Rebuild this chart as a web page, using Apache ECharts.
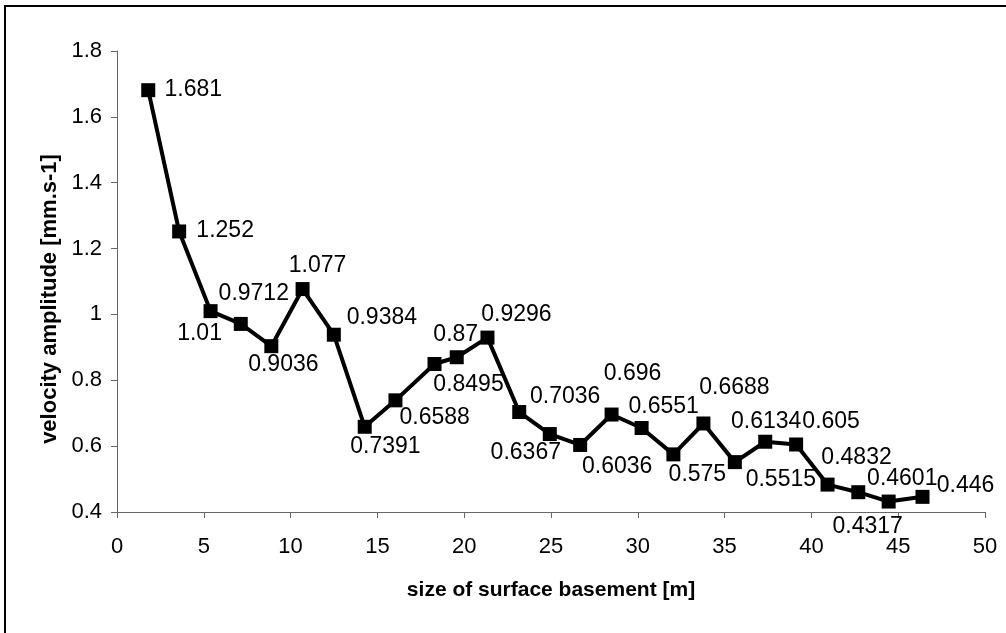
<!DOCTYPE html>
<html>
<head>
<meta charset="utf-8">
<script src="https://cdn.jsdelivr.net/npm/echarts@6/dist/echarts.min.js"></script>
<style>
  html, body { margin: 0; padding: 0; background: #fff; }
  #chart { width: 1006px; height: 633px; }
</style>
</head>
<body>
<div id="chart"></div>
<script>
// Size of the surface basement [m] for each measurement
var basementSize = [1.80, 3.58, 5.39, 7.13, 8.89, 10.69, 12.49, 14.27, 16.04, 18.29,
  19.57, 21.34, 23.17, 24.93, 26.68, 28.49, 30.22, 32.05, 33.78, 35.59,
  37.34, 39.12, 40.93, 42.70, 44.45, 46.40];

// Measured velocity amplitude [mm.s-1]
var velocityAmplitude = [1.681, 1.252, 1.01, 0.9712, 0.9036, 1.077, 0.9384, 0.6588, 0.7391, 0.8495,
  0.87, 0.9296, 0.7036, 0.6367, 0.6036, 0.696, 0.6551, 0.575, 0.6688, 0.5515,
  0.6134, 0.605, 0.4832, 0.4601, 0.4317, 0.446];

// Axis ticks
var xTicks = { min: 0, max: 50, interval: 5 };
var yTicks = { min: 0.4, max: 1.8, interval: 0.2 };

// Where each value label sits relative to its marker (pixel offsets of the label centre)
var labelOffsets = [
  [45, -1], [46, -1], [-11, 23], [13, -30], [12, 18], [15, -23], [48, -17],
  [70, -9], [-10, 46], [34, 21], [-1, -23], [29, -23], [46, -15], [-24, 19],
  [37, 22], [21, -41], [22, -21], [24, 20], [31, -36], [46, 18], [1, -20],
  [35, -23], [29, -27], [44, -14], [-21, 25], [43, -11]
];

var FONT = '"Liberation Sans", Arial, sans-serif';
var AXIS_COLOR = '#666666';
var MARKER = 14;

var points = basementSize.map(function (x, i) {
  var off = labelOffsets[i];
  return {
    value: [x, velocityAmplitude[i]],
    label: {
      show: true,
      // position is measured from the marker's top-left corner
      position: [MARKER / 2 + off[0], MARKER / 2 + off[1]],
      align: 'center',
      verticalAlign: 'middle'
    }
  };
});

var chart = echarts.init(document.getElementById('chart'), null, { renderer: 'canvas' });

chart.setOption({
  animation: false,
  backgroundColor: '#ffffff',
  grid: { left: 117, right: 21, top: 51, bottom: 121, containLabel: false },
  graphic: [
    {
      type: 'rect',
      shape: { x: 5, y: 6, width: 1200, height: 800 },
      style: { fill: 'none', stroke: '#000000', lineWidth: 2 },
      silent: true
    }
  ],
  xAxis: {
    type: 'value',
    min: xTicks.min,
    max: xTicks.max,
    interval: xTicks.interval,
    name: 'size of surface basement [m]',
    nameLocation: 'middle',
    nameGap: 68,
    nameTextStyle: { fontFamily: FONT, fontSize: 21, fontWeight: 'bold', color: '#000' },
    axisLine: { show: true, onZero: false, lineStyle: { color: AXIS_COLOR, width: 1 } },
    axisTick: { show: true, inside: false, length: 6, lineStyle: { color: AXIS_COLOR } },
    axisLabel: { margin: 24, fontFamily: FONT, fontSize: 22, color: '#000' },
    splitLine: { show: false }
  },
  yAxis: {
    type: 'value',
    min: yTicks.min,
    max: yTicks.max,
    interval: yTicks.interval,
    name: 'velocity amplitude [mm.s-1]',
    nameLocation: 'middle',
    nameGap: 55,
    nameRotate: 90,
    nameTextStyle: { fontFamily: FONT, fontSize: 22, fontWeight: 'bold', color: '#000', padding: [0, 35, 0, 0] },
    axisLine: { show: true, onZero: false, lineStyle: { color: AXIS_COLOR, width: 1 } },
    axisTick: { show: true, inside: false, length: 6, lineStyle: { color: AXIS_COLOR } },
    axisLabel: {
      margin: 15, fontFamily: FONT, fontSize: 22, color: '#000',
      formatter: function (v) { return String(Math.round(v * 10) / 10); }
    },
    splitLine: { show: false }
  },
  series: [
    {
      type: 'line',
      data: points,
      symbol: 'rect',
      symbolSize: MARKER,
      showAllSymbol: true,
      lineStyle: { color: '#000000', width: 4 },
      itemStyle: { color: '#000000' },
      label: {
        show: true,
        fontFamily: FONT,
        fontSize: 23,
        color: '#000',
        formatter: function (p) { return String(p.value[1]); }
      },
      labelLayout: { hideOverlap: false }
    }
  ]
});
</script>
</body>
</html>
